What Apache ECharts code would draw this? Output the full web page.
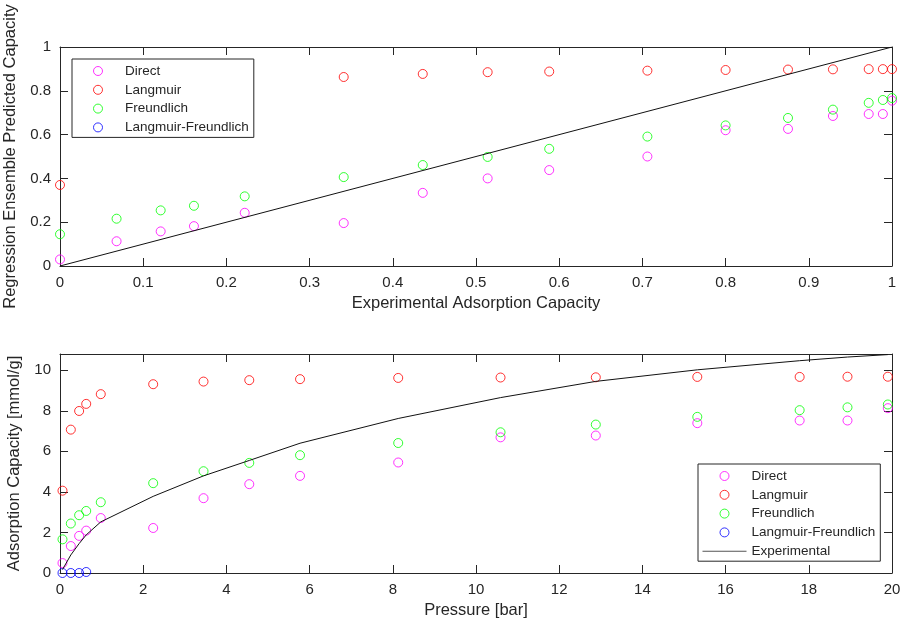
<!DOCTYPE html>
<html>
<head>
<meta charset="utf-8">
<script src="https://cdn.jsdelivr.net/npm/echarts/dist/echarts.min.js"></script>
<style>
	html, body { margin: 0; padding: 0; background: #fff; }
	#chart { width: 903px; height: 627px; }
</style>
</head>
<body>
<div id="chart"></div>
<script>
// top plot: normalised values (experimental on x, predictions on y)
var topExp = [0, 0.068, 0.121, 0.161, 0.222, 0.341, 0.436, 0.514, 0.588, 0.706, 0.800, 0.875, 0.929, 0.972, 0.989, 1.0];
var topDirect = [0.03, 0.113, 0.158, 0.182, 0.243, 0.196, 0.334, 0.400, 0.438, 0.500, 0.620, 0.626, 0.685, 0.694, 0.694, 0.755];
var topLangmuir = [0.37, null, null, null, null, 0.863, 0.877, 0.885, 0.888, 0.892, 0.895, 0.897, 0.898, 0.899, 0.899, 0.899];
var topFreundlich = [0.145, 0.216, 0.254, 0.275, 0.318, 0.406, 0.461, 0.498, 0.535, 0.591, 0.642, 0.676, 0.714, 0.745, 0.758, 0.767];
var topLF = [];
var idealLine = [0, 1];

// bottom plot: isotherm, pressure in bar, capacity in mmol/g
var pressure = [0.06, 0.26, 0.46, 0.63, 0.98, 2.24, 3.45, 4.55, 5.77, 8.13, 10.59, 12.88, 15.32, 17.78, 18.93, 19.90];
var experimental = [0.17, 0.89, 1.45, 1.88, 2.52, 3.78, 4.79, 5.55, 6.40, 7.62, 8.65, 9.45, 10.02, 10.47, 10.65, 10.77];
var direct = [0.49, 1.33, 1.83, 2.09, 2.71, 2.22, 3.69, 4.38, 4.79, 5.45, 6.69, 6.78, 7.39, 7.52, 7.52, 8.13];
var langmuir = [4.06, 7.07, 7.99, 8.34, 8.82, 9.31, 9.44, 9.51, 9.56, 9.62, 9.64, 9.65, 9.67, 9.67, 9.68, 9.68];
var freundlich = [1.66, 2.44, 2.85, 3.06, 3.49, 4.43, 5.02, 5.43, 5.81, 6.41, 6.94, 7.32, 7.70, 8.03, 8.17, 8.31];
var langFreund = [0, 0, 0, 0.05];

var names = ['Direct', 'Langmuir', 'Freundlich', 'Langmuir-Freundlich'];
var colors = ['#ff00ff', '#ff0000', '#00ff00', '#0000ff'];

var axisColor = '#262626';
var lineColor = '#111111';
var fontFamily = "'Liberation Sans', Arial, Helvetica, sans-serif";

function pairs(xs, ys) {
	var out = [];
	for (var i = 0; i < ys.length; i++) {
		if (ys[i] !== null) out.push([xs[i], ys[i]]);
	}
	return out;
}

function scatter(name, color, data, idx) {
	return {
		name: name,
		type: 'scatter',
		xAxisIndex: idx,
		yAxisIndex: idx,
		symbol: 'circle',
		symbolSize: 9,
		itemStyle: { color: 'rgba(0,0,0,0)', borderColor: color, borderWidth: 1 },
		emphasis: { disabled: true },
		data: data
	};
}

function axis(opt, main) {
	var a = {
		type: 'value',
		gridIndex: opt.grid,
		position: opt.position,
		min: opt.min,
		max: opt.max,
		interval: opt.interval,
		axisLine: { show: true, onZero: false, lineStyle: { color: axisColor, width: 1 } },
		axisTick: { show: true, inside: true, length: 8, lineStyle: { color: axisColor } },
		splitLine: { show: false },
		axisLabel: { show: main, showMaxLabel: opt.showMax, margin: 9, fontSize: 15, color: axisColor, fontFamily: fontFamily }
	};
	if (main && opt.name) {
		a.name = opt.name;
		a.nameLocation = 'middle';
		a.nameGap = opt.gap;
		a.nameTextStyle = { fontSize: 16.5, color: axisColor, fontFamily: fontFamily };
	}
	return a;
}

function legendItems(list) {
	return list.map(function (n) {
		return { name: n, icon: 'circle' };
	});
}

function legend(left, top, data, padLeft) {
	return {
		orient: 'vertical',
		left: left,
		top: top,
		data: data,
		itemWidth: 44,
		itemHeight: 9,
		itemGap: 4.8,
		padding: [5, 5, 3, padLeft],
		borderColor: axisColor,
		borderWidth: 1,
		backgroundColor: '#fff',
		selectedMode: false,
		itemStyle: { borderWidth: 1 },
		textStyle: { fontSize: 13.5, lineHeight: 14, color: axisColor, fontFamily: fontFamily }
	};
}

var myChart = echarts.init(document.getElementById('chart'));

var topSeries = [topDirect, topLangmuir, topFreundlich, topLF];
var bottomSeries = [direct, langmuir, freundlich, langFreund];
var series = [];
for (var i = 0; i < names.length; i++) {
	series.push(scatter(names[i], colors[i], pairs(topExp, topSeries[i]), 0));
}
series.push({
	name: 'Ideal',
	type: 'line',
	xAxisIndex: 0,
	yAxisIndex: 0,
	symbol: 'none',
	itemStyle: { color: lineColor },
	lineStyle: { color: lineColor, width: 1 },
	data: pairs(idealLine, idealLine)
});
for (var j = 0; j < names.length; j++) {
	series.push(scatter(names[j], colors[j], pairs(pressure, bottomSeries[j]), 2));
}
series.push({
	name: 'Experimental',
	type: 'line',
	xAxisIndex: 2,
	yAxisIndex: 2,
	symbol: 'none',
	itemStyle: { color: lineColor },
	lineStyle: { color: lineColor, width: 1 },
	data: pairs(pressure, experimental)
});

var option = {
	animation: false,
	backgroundColor: '#fff',
	textStyle: { fontFamily: fontFamily },
	grid: [
		{ left: 60, top: 47, width: 832, height: 219, outerBoundsMode: 'none', containLabel: false },
		{ left: 60, top: 354, width: 832, height: 219, outerBoundsMode: 'none', containLabel: false }
	],
	legend: [
		// circle-only legend packs its icons left, so pad it to line up like the one below
		legend(72, 59, legendItems(names), 21),
		legend(698, 464, legendItems(names).concat([{ name: 'Experimental', icon: 'path://M0,0 H44 V1 H0 Z', itemStyle: { color: '#555', borderWidth: 0 } }]), 4.5)
	],
	xAxis: [
		axis({ grid: 0, position: 'bottom', min: 0, max: 1, interval: 0.1, name: 'Experimental Adsorption Capacity', gap: 29 }, true),
		axis({ grid: 0, position: 'top', min: 0, max: 1, interval: 0.1 }, false),
		axis({ grid: 1, position: 'bottom', min: 0, max: 20, interval: 2, name: 'Pressure [bar]', gap: 29 }, true),
		axis({ grid: 1, position: 'top', min: 0, max: 20, interval: 2 }, false)
	],
	yAxis: [
		axis({ grid: 0, position: 'left', min: 0, max: 1, interval: 0.2, name: 'Regression Ensemble Predicted Capacity', gap: 33 }, true),
		axis({ grid: 0, position: 'right', min: 0, max: 1, interval: 0.2 }, false),
		axis({ grid: 1, position: 'left', min: 0, max: 10.8, interval: 2, showMax: false, name: 'Adsorption Capacity [mmol/g]', gap: 29 }, true),
		axis({ grid: 1, position: 'right', min: 0, max: 10.8, interval: 2, showMax: false }, false)
	],
	series: series
};

myChart.setOption(option);
</script>
</body>
</html>
